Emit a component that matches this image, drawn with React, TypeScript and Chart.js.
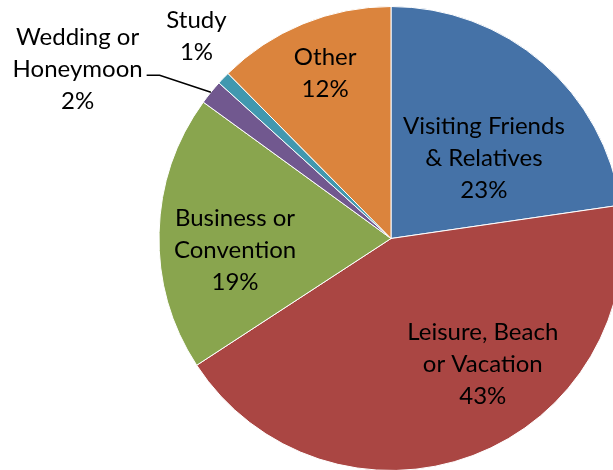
import React, { useEffect, useRef } from "react";
import { Chart, registerables } from "chart.js";

Chart.register(...registerables);

// ---- data ----
const categories = [
  "Visiting Friends\n& Relatives",
  "Leisure, Beach\nor Vacation",
  "Business or\nConvention",
  "Wedding or\nHoneymoon",
  "Study",
  "Other",
];
const shares = [22.7, 43.1, 19.2, 1.7, 0.9, 12.4];
const sliceColors = ["#4572A7", "#AA4643", "#89A54E", "#71588F", "#4198AF", "#DB843D"];

// ---- label placement (polar: fraction of radius, angle shift in degrees) ----
const labelRadius = [0.53, 0.67, 0.674, 1.535, 1.21, 0.767];
const labelAngleShift = [8.2, -15.5, -5.6, -10.7, 2.4, 0.6];
const labelLeader = [false, false, false, true, false, false];

const FONT = "24px Lato, 'Open Sans', sans-serif";
const LINE_H = 32;

const labelPlugin = {
  id: "sliceLabels",
  afterDatasetsDraw(chart: any) {
    const ctx = chart.ctx;
    const meta = chart.getDatasetMeta(0);
    const total = shares.reduce((a, b) => a + b, 0);
    ctx.save();
    ctx.font = FONT;
    ctx.fillStyle = "#000";
    ctx.textAlign = "center";
    ctx.textBaseline = "middle";
    meta.data.forEach((arc: any, i: number) => {
      const { x, y, startAngle, endAngle, outerRadius } = arc.getProps(
        ["x", "y", "startAngle", "endAngle", "outerRadius"],
        true
      );
      const mid = (startAngle + endAngle) / 2;
      const ang = mid + (labelAngleShift[i] * Math.PI) / 180;
      const px = x + Math.cos(ang) * outerRadius * labelRadius[i];
      const py = y + Math.sin(ang) * outerRadius * labelRadius[i];
      const lines = categories[i].split("\n").concat([Math.round((shares[i] / total) * 100) + "%"]);
      const n = lines.length;
      lines.forEach((t, k) => {
        ctx.fillText(t, px, py + (k - (n - 1) / 2) * LINE_H);
      });
      if (labelLeader[i]) {
        const widest = Math.max(...lines.map((t) => ctx.measureText(t).width));
        const sx = px + widest / 2 + 4;
        const sy = py + 6;
        const ex = x + Math.cos(mid) * outerRadius;
        const ey = y + Math.sin(mid) * outerRadius;
        ctx.beginPath();
        ctx.strokeStyle = "#000";
        ctx.lineWidth = 1.5;
        ctx.moveTo(sx, sy);
        ctx.lineTo(sx + 13, sy);
        ctx.lineTo(ex, ey);
        ctx.stroke();
      }
    });
    ctx.restore();
  },
};

export default function App() {
  const ref = useRef<HTMLCanvasElement | null>(null);
  useEffect(() => {
    if (!ref.current) return;
    const chart = new Chart(ref.current, {
      type: "pie",
      data: {
        labels: categories.map((c) => c.replace("\n", " ")),
        datasets: [
          {
            data: shares,
            backgroundColor: sliceColors,
            borderColor: "#ffffff",
            borderWidth: 1,
          },
        ],
      },
      options: {
        responsive: false,
        maintainAspectRatio: false,
        animation: false,
        radius: 232,
        layout: { padding: { left: 169, right: 0, top: 7, bottom: 0 } },
        plugins: {
          legend: { display: false },
          tooltip: { enabled: false },
        },
      } as any,
      plugins: [labelPlugin],
    });
    return () => chart.destroy();
  }, []);
  return (
    <div style={{ position: "fixed", left: 0, top: 0, width: 613, height: 470, background: "#fff" }}>
      <canvas ref={ref} width={613} height={470} />
    </div>
  );
}
